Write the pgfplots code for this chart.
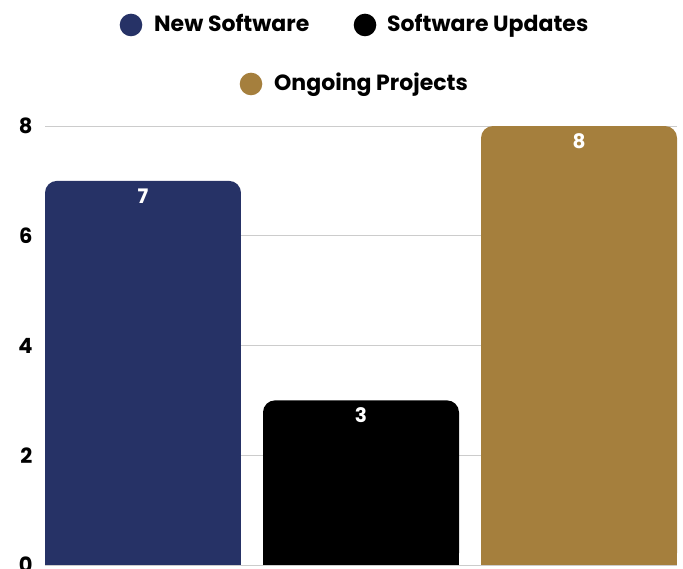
\documentclass[border=0pt]{standalone}
\usepackage{pgfplots}
\pgfplotsset{compat=1.18}
\usepackage{fontspec}
\setmainfont{Poppins}

\definecolor{navy}{HTML}{263266}
\definecolor{gold}{HTML}{A57F3D}
\definecolor{gridgray}{HTML}{CCCCCC}

\begin{document}
\begin{tikzpicture}[x=1pt,y=1pt]
\useasboundingbox (0,0) rectangle (683,569);

% legend, drawn by hand so the second row can be centred
\fill[navy] (131,544) circle (11.3);
\node[anchor=base west, inner sep=0, font=\bfseries\fontsize{22}{26}\selectfont] at (154,537) {New Software};
\fill[black] (365,544) circle (11.3);
\node[anchor=base west, inner sep=0, font=\bfseries\fontsize{22}{26}\selectfont] at (387,537) {Software Updates};
\fill[gold] (251,485) circle (11.3);
\node[anchor=base west, inner sep=0, font=\bfseries\fontsize{22}{26}\selectfont] at (274,478) {Ongoing Projects};

\begin{axis}[
    at={(45pt,4pt)}, anchor=south west,
    scale only axis, width=632pt, height=439pt,
    xmin=-0.4495, xmax=2.4495, ymin=0, ymax=8,
    xtick=\empty, ytick={0,2,4,6,8},
    axis line style={draw=none},
    major tick length=0pt,
    ymajorgrids, grid style={gridgray, line width=0.8pt},
    /pgf/number format/assume math mode=true,
    yticklabel style={font=\bfseries\fontsize{21}{21}\selectfont, xshift=-9pt},
    every axis plot/.append style={ybar, bar width=196pt, bar shift=0pt, draw=none},
    nodes near coords align={center},
    every node near coord/.append style={yshift=-15pt, text=white, font=\bfseries\fontsize{20}{20}\selectfont},
  ]
  % square feet so only the top corners look rounded
  \addplot[fill=navy] coordinates {(0,1)};
  \addplot[fill=black] coordinates {(1,1)};
  \addplot[fill=gold] coordinates {(2,1)};

  \addplot[fill=navy, rounded corners=12pt, nodes near coords] coordinates {(0,7)};
  \addplot[fill=black, rounded corners=12pt, nodes near coords] coordinates {(1,3)};
  \addplot[fill=gold, rounded corners=12pt, nodes near coords] coordinates {(2,8)};
\end{axis}
\end{tikzpicture}
\end{document}
